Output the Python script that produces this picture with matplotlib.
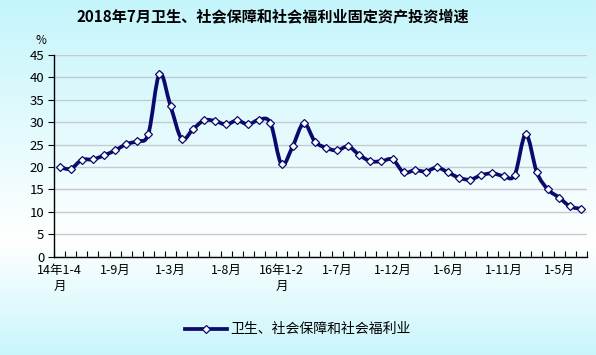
import numpy as np
import matplotlib
matplotlib.use("Agg")
import matplotlib.pyplot as plt
from matplotlib.path import Path
from matplotlib.patches import PathPatch
from matplotlib.lines import Line2D
from matplotlib.colors import LinearSegmentedColormap

plt.rcParams['font.family'] = ['Noto Sans CJK SC', 'DejaVu Sans']

title = "2018年7月卫生、社会保障和社会福利业固定资产投资增速"
series_name = "卫生、社会保障和社会福利业"

# 2014 1-4 ... 2018 1-7 (cumulative growth, %)
values = [20.0, 19.6, 21.6, 21.7, 22.6, 23.7, 25.1, 25.8, 27.4,
          40.8, 33.6, 26.3, 28.4, 30.4, 30.3, 29.5, 30.4, 29.5, 30.6, 29.8,
          20.6, 24.6, 29.8, 25.7, 24.3, 23.7, 24.6, 22.7, 21.3, 21.3, 21.7,
          18.8, 19.3, 19.0, 19.9, 18.8, 17.6, 17.2, 18.2, 18.6, 18.0, 18.2,
          27.3, 18.8, 15.0, 13.2, 11.2, 10.7]
tick_pos = [0, 5, 10, 15, 20, 25, 30, 35, 40, 45]
tick_labels = ["14年1-4\n月", "1-9月", "1-3月", "1-8月", "16年1-2\n月",
               "1-7月", "1-12月", "1-6月", "1-11月", "1-5月"]

navy = "#0a0a6e"

fig = plt.figure(figsize=(5.96, 3.55), dpi=100)

# background gradient
bg = fig.add_axes([0, 0, 1, 1], zorder=-10)
bg.axis("off")
cmap = LinearSegmentedColormap.from_list(
    "bg", [(0.0, "#c4f5fb"), (0.68, "#ffffff"), (1.0, "#c9f6fb")])
bg.imshow(np.linspace(0, 1, 256).reshape(-1, 1), aspect="auto", cmap=cmap,
          extent=[0, 1, 0, 1], origin="upper")
bg.set_xlim(0, 1)
bg.set_ylim(0, 1)

ax = fig.add_axes([0.0906, 0.277, 0.894, 0.568])
ax.patch.set_alpha(0)

x = np.arange(len(values))
y = np.array(values)

# smooth curve (Catmull-Rom as cubic Bezier segments)
pts = np.column_stack([x, y])
verts = [pts[0]]
codes = [Path.MOVETO]
n = len(pts)
for i in range(n - 1):
    p0 = pts[max(i - 1, 0)]
    p1 = pts[i]
    p2 = pts[i + 1]
    p3 = pts[min(i + 2, n - 1)]
    c1 = p1 + (p2 - p0) / 6.0
    c2 = p2 - (p3 - p1) / 6.0
    verts += [c1, c2, p2]
    codes += [Path.CURVE4] * 3
ax.add_patch(PathPatch(Path(verts, codes), facecolor="none", edgecolor=navy,
                       lw=2.7, capstyle="round", joinstyle="round", zorder=3))
ax.plot(x, y, ls="none", marker="D", ms=4.5, mfc="white", mec=navy, mew=0.9,
        zorder=4)

ax.set_xlim(-0.5, len(values) - 0.5)
ax.set_ylim(0, 45)
ax.set_yticks(np.arange(0, 46, 5))
ax.yaxis.grid(True, color="#c8c8d0", lw=1.0)
ax.set_axisbelow(True)
for s in ["top", "right"]:
    ax.spines[s].set_visible(False)
for s in ["left", "bottom"]:
    ax.spines[s].set_color("black")
    ax.spines[s].set_linewidth(1.0)

ax.set_xticks(np.arange(-0.5, len(values), 1), minor=True)
ax.set_xticks(tick_pos)
ax.set_xticklabels(tick_labels, fontsize=9, linespacing=1.3)
ax.tick_params(axis="x", which="major", length=0, pad=5)
ax.tick_params(axis="x", which="minor", direction="in", length=4, width=0.8)
ax.tick_params(axis="y", direction="out", length=4, labelsize=9.5, pad=3)
for lbl in ax.get_xticklabels():
    lbl.set_verticalalignment("top")

fig.text(0.068, 0.885, "%", fontsize=8.5, ha="center", va="center")
fig.text(0.458, 0.952, title, fontsize=10.9, fontweight="bold", ha="center",
         va="center")

handle = Line2D([], [], color=navy, lw=2.7, marker="D", ms=4.5,
                mfc="white", mec=navy, mew=0.9)
fig.legend([handle], [series_name], loc="center", bbox_to_anchor=(0.5, 0.072),
           frameon=False, fontsize=10, handlelength=3.0, handletextpad=0.3)

fig.savefig("out.png", dpi=100)
